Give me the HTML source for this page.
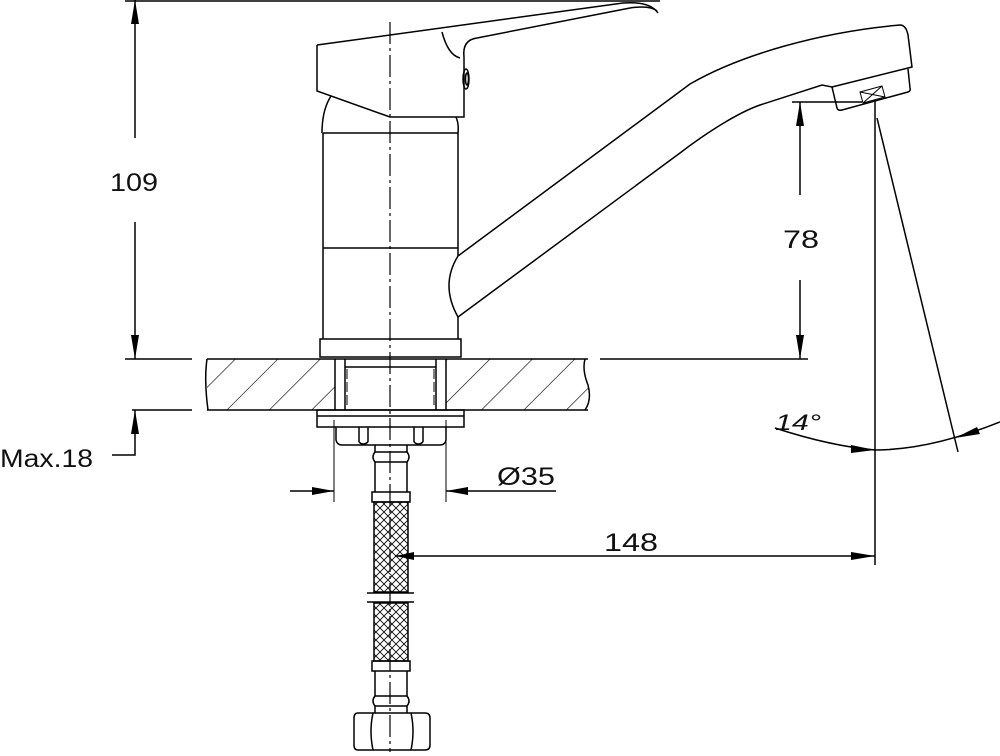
<!DOCTYPE html>
<html><head><meta charset="utf-8"><style>
html,body{margin:0;padding:0;background:#fff}
svg{display:block}
text{font-family:"Liberation Sans",sans-serif;fill:#111}
</style></head><body>
<svg width="1000" height="756" viewBox="0 0 1000 756" xmlns="http://www.w3.org/2000/svg">
<defs>
<pattern id="hatch" patternUnits="userSpaceOnUse" width="30" height="30" patternTransform="rotate(45)">
<line x1="0" y1="0" x2="0" y2="30" stroke="#000" stroke-width="1.3"/>
</pattern>
<pattern id="braid" patternUnits="userSpaceOnUse" width="8" height="8">
<path d="M0,0 L8,8 M8,0 L0,8" stroke="#000" stroke-width="0.8"/>
</pattern>
<clipPath id="cl"><path d="M207,359 H335 V410 H207 Z M446,359 H588 V410 H446 Z"/></clipPath>
</defs>
<g fill="none" stroke="#000" stroke-width="1.5">
<line x1="125" y1="1" x2="660" y2="1"/>
<line x1="135" y1="0" x2="135" y2="138"/>
<line x1="135" y1="222" x2="135" y2="359"/>
<line x1="125" y1="359" x2="192" y2="359"/>
<line x1="132" y1="410" x2="192" y2="410"/>
<polyline points="112,455 135,455 135,410"/>
<rect x="207" y="359" width="128" height="51" fill="url(#hatch)" clip-path="url(#cl)" stroke="none"/>
<rect x="446" y="359" width="142" height="51" fill="url(#hatch)" clip-path="url(#cl)" stroke="none"/>
<line x1="207" y1="359" x2="588" y2="359"/>
<line x1="207" y1="410" x2="588" y2="410"/>
<path d="M207,359 Q204,380 208,410"/>
<path d="M585,359 Q582,370 588,385 Q592,400 585,410"/>
<line x1="600" y1="359" x2="808" y2="359"/>
<line x1="335" y1="359" x2="335" y2="410"/>
<line x1="345" y1="359" x2="345" y2="410"/>
<line x1="436" y1="359" x2="436" y2="410"/>
<line x1="446" y1="359" x2="446" y2="410"/>
<line x1="345" y1="367" x2="436" y2="367"/>
<line x1="347" y1="369" x2="347" y2="408" stroke-dasharray="10 3" stroke-width="1"/>
<line x1="434" y1="369" x2="434" y2="408" stroke-dasharray="10 3" stroke-width="1"/>
<rect x="317" y="410" width="147" height="17"/>
<line x1="317" y1="416" x2="464" y2="416"/>
<path d="M336,427 V440 Q337,445 342,445 H440 Q445,445 446,440 V427"/>
<path d="M359,427 V442 M368,427 V442 M414,427 V442 M423,427 V442"/>
<path d="M359,442 Q363,446 368,442 M414,442 Q418,446 423,442"/>
<line x1="375" y1="445" x2="375" y2="452"/><line x1="407" y1="445" x2="407" y2="452"/>
<path d="M375,452 Q371,457 375,462 H407 Q411,457 407,452 Z"/>
<line x1="375" y1="462" x2="375" y2="492"/><line x1="407" y1="462" x2="407" y2="492"/>
<rect x="372" y="492" width="38" height="10"/>
<rect x="374" y="502" width="34" height="90" fill="url(#braid)"/>
<line x1="367" y1="593" x2="414" y2="593"/>
<line x1="367" y1="602" x2="414" y2="602"/>
<rect x="374" y="603" width="34" height="58" fill="url(#braid)"/>
<rect x="372" y="661" width="38" height="10"/>
<line x1="375" y1="671" x2="375" y2="696"/><line x1="407" y1="671" x2="407" y2="696"/>
<path d="M375,696 Q371,701 375,706 H407 Q411,701 407,696 Z"/>
<line x1="375" y1="706" x2="375" y2="713"/><line x1="407" y1="706" x2="407" y2="713"/>
<path d="M358,713 H425 Q430,713 430,718 V745 Q430,750 425,750 H358 Q354,750 354,745 V718 Q354,713 358,713 Z"/>
<path d="M373,713 Q369,731 373,750 M411,713 Q415,731 411,750"/>
<rect x="320" y="339" width="141" height="18"/>
<line x1="323" y1="133" x2="323" y2="339"/>
<line x1="458" y1="133" x2="458" y2="256"/>
<line x1="458" y1="317" x2="458" y2="339"/>
<line x1="323" y1="133" x2="458" y2="133"/>
<line x1="323" y1="248" x2="458" y2="248"/>
<path d="M322,133 Q322,110 331,96"/>
<path d="M458,133 Q459,124 456,117"/>
<path d="M317,45 L623,3 Q650,1 658,13"/>
<path d="M317,45 V91 L390,117 H464 V57"/>
<path d="M477,38 L630,8 Q650,5 657,11"/>
<path d="M442,32 Q448,55 460,58"/>
<path d="M464,57 Q462,40 477,38"/>
<ellipse cx="466" cy="79" rx="3" ry="10"/>
<ellipse cx="467" cy="79" rx="1.5" ry="6"/>
<path d="M458,256 L690,84 C740,55 820,32 900,25 Q906,25 908,35 L912,67 L832,87"/>
<path d="M458,317 L680,153 C710,130 740,112 760,105 L822,85 L832,87"/>
<path d="M458,256 Q440,285 458,317"/>
<path d="M832,87 L837,108 Q838,111 842,110 L908,92 Q911,91 910,88 L908,69"/>
<path d="M860,92 L882,86 L885,97 L863,103 Z M860,92 L885,97 M882,86 L863,103" stroke-width="1"/>
<line x1="792" y1="102" x2="862" y2="102"/>
<line x1="800" y1="102" x2="800" y2="195"/>
<line x1="800" y1="280" x2="800" y2="359"/>
<line x1="875" y1="100" x2="875" y2="565"/>
<line x1="877" y1="118" x2="958" y2="452"/>
<path d="M775,428 Q830,446 875,450 Q930,450 1000,422"/>
<line x1="395" y1="556" x2="875" y2="556"/>
<line x1="334" y1="420" x2="334" y2="502" stroke-width="1"/>
<line x1="446" y1="420" x2="446" y2="502" stroke-width="1"/>
<line x1="290" y1="491" x2="334" y2="491"/>
<line x1="446" y1="491" x2="556" y2="491"/>
</g>
<line x1="390" y1="22" x2="390" y2="752" stroke="#000" stroke-width="1.2" stroke-dasharray="22 4 3 4"/>
<g fill="#000">
<polygon points="135,0 131,24 139,24"/>
<polygon points="135,359 131,335 139,335"/>
<polygon points="135,410 131,434 139,434"/>
<polygon points="800,102 796,126 804,126"/>
<polygon points="800,359 796,335 804,335"/>
<polygon points="875,450 851,445 851,453"/>
<polygon points="955,438 977,427 980,434"/>
<polygon points="875,556 851,552 851,560"/>
<polygon points="396,556 414,552 414,560"/>
<polygon points="334,491 312,487 312,495"/>
<polygon points="446,491 468,487 468,495"/>
</g>
<text x="110" y="191" font-size="25" textLength="48" lengthAdjust="spacingAndGlyphs">109</text>
<text x="783" y="248" font-size="25" textLength="36" lengthAdjust="spacingAndGlyphs">78</text>
<text x="604" y="551" font-size="25" textLength="54" lengthAdjust="spacingAndGlyphs">148</text>
<text x="497" y="485" font-size="25" textLength="58" lengthAdjust="spacingAndGlyphs">Ø35</text>
<text x="0" y="467" font-size="25" textLength="93" lengthAdjust="spacingAndGlyphs">Max.18</text>
<text x="775" y="430" font-size="22" font-style="italic" textLength="46" lengthAdjust="spacingAndGlyphs">14°</text>
</svg>
</body></html>
